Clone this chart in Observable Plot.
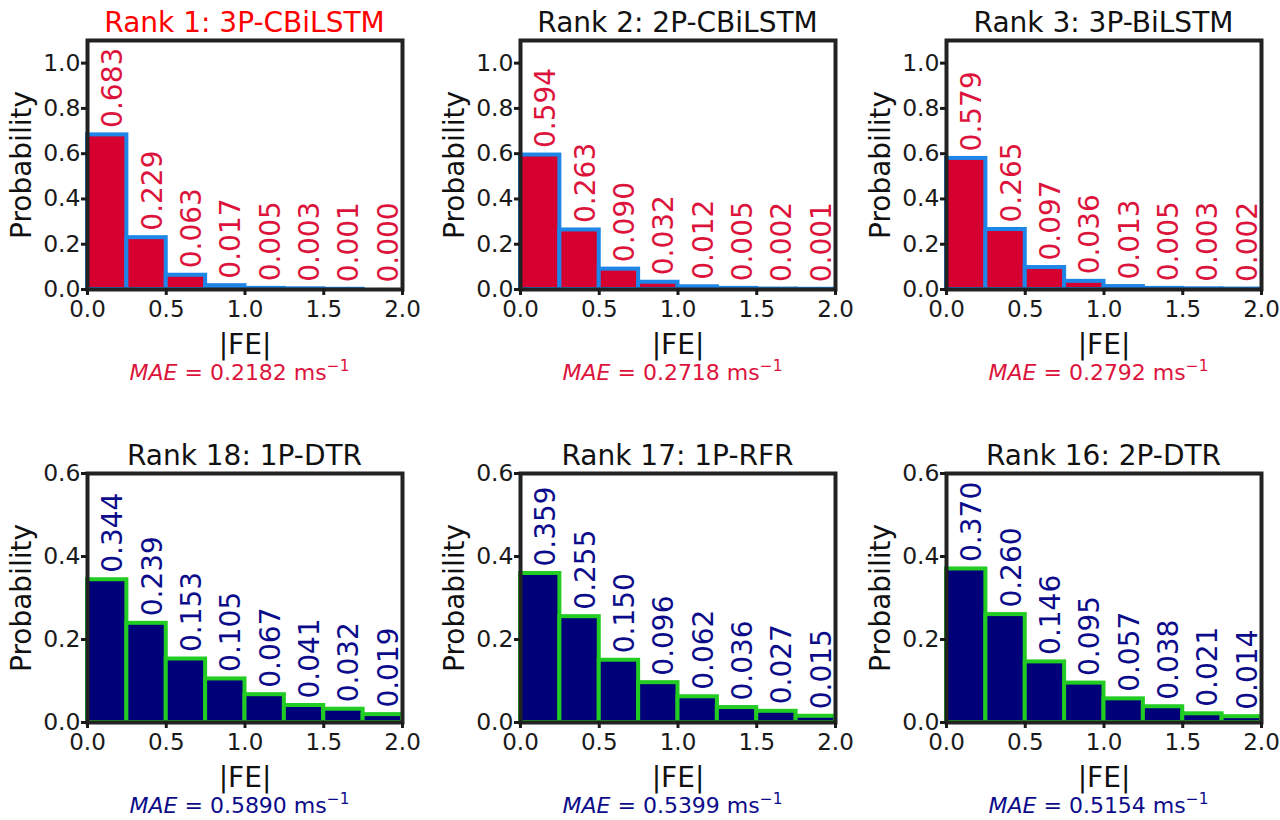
<!DOCTYPE html>
<html>
<head>
<meta charset="utf-8">
<script src="https://cdn.jsdelivr.net/npm/d3@7"></script>
<script src="https://cdn.jsdelivr.net/npm/@observablehq/plot@0.6"></script>
<style>
  body { margin: 0; background: #fff; }
  #root { position: relative; width: 1280px; height: 820px; overflow: hidden; font-family: "DejaVu Sans", sans-serif; color: #1a1a1a; }
  .title, .mae { position: absolute; text-align: center; white-space: nowrap; }
  .mae sup { font-size: 0.7em; vertical-align: 0; position: relative; top: -0.6em; line-height: 0; }
  .plot { position: absolute; }
</style>
</head>
<body>
<div id="root"></div>
<script>
// ---- data ----
const binEdges = [0, 0.25, 0.5, 0.75, 1.0, 1.25, 1.5, 1.75, 2.0];
const panelTitles = ["Rank 1: 3P-CBiLSTM", "Rank 2: 2P-CBiLSTM", "Rank 3: 3P-BiLSTM",
                     "Rank 18: 1P-DTR", "Rank 17: 1P-RFR", "Rank 16: 2P-DTR"];
const probRank1  = [0.683, 0.229, 0.063, 0.017, 0.005, 0.003, 0.001, 0.000];
const probRank2  = [0.594, 0.263, 0.090, 0.032, 0.012, 0.005, 0.002, 0.001];
const probRank3  = [0.579, 0.265, 0.097, 0.036, 0.013, 0.005, 0.003, 0.002];
const probRank18 = [0.344, 0.239, 0.153, 0.105, 0.067, 0.041, 0.032, 0.019];
const probRank17 = [0.359, 0.255, 0.150, 0.096, 0.062, 0.036, 0.027, 0.015];
const probRank16 = [0.370, 0.260, 0.146, 0.095, 0.057, 0.038, 0.021, 0.014];
const maeValues  = ["0.2182", "0.2718", "0.2792", "0.5890", "0.5399", "0.5154"];
const xTicks = [0, 0.5, 1.0, 1.5, 2.0];
const yTicksTop = [0, 0.2, 0.4, 0.6, 0.8, 1.0];
const yTicksBottom = [0, 0.2, 0.4, 0.6];
const yMaxTop = 1.1, yMaxBottom = 0.6;
const xLabel = "|FE|", yLabel = "Probability";

// ---- styles ----
const topStyle = {fill: "#d5002f", edge: "#1e86e6", text: "#dc143c"};
const bottomStyle = {fill: "#000078", edge: "#22cc22", text: "#0c0c8a"};

const allValues = [probRank1, probRank2, probRank3, probRank18, probRank17, probRank16];
const colLefts = [87, 520, 946];
const rowTops = [40, 473];
const FW = 315, FH = 249;
const ML = 95, MR = 18, MT = 12, MB = 75;

const root = document.getElementById("root");

allValues.forEach((values, i) => {
  const row = Math.floor(i / 3), col = i % 3;
  const st = row === 0 ? topStyle : bottomStyle;
  const left = colLefts[col], top = rowTops[row];
  const data = values.map((v, k) => ({x1: binEdges[k], x2: binEdges[k + 1], y: v, label: v.toFixed(3)}));

  const chart = Plot.plot({
    width: ML + FW + MR,
    height: MT + FH + MB,
    marginLeft: ML, marginRight: MR, marginTop: MT, marginBottom: MB,
    style: {fontFamily: "DejaVu Sans, sans-serif", background: "transparent", color: "#1a1a1a", overflow: "visible"},
    x: {domain: [0, 2]},
    y: {domain: [0, row === 0 ? yMaxTop : yMaxBottom]},
    marks: [
      Plot.rectY(data, {x1: "x1", x2: "x2", y: "y", fill: st.fill, stroke: st.edge, strokeWidth: 4, inset: 0}),
      Plot.frame({stroke: "#222", strokeWidth: 4}),
      Plot.axisX({ticks: xTicks, tickFormat: ".1f", tickSize: 6, tickPadding: 5, fontSize: 23, strokeWidth: 3, stroke: "#1a1a1a", label: null}),
      Plot.axisY({ticks: row === 0 ? yTicksTop : yTicksBottom, tickFormat: ".1f", tickSize: 6, tickPadding: 1, fontSize: 23.5, strokeWidth: 3, stroke: "#1a1a1a", label: null}),
      Plot.text(data, {x: d => (d.x1 + d.x2) / 2, y: "y", text: "label", rotate: -90, textAnchor: "start", lineAnchor: "middle", dx: 6, dy: -7, fontSize: 28, fill: st.text}),
      Plot.text([yLabel], {text: d => d, frameAnchor: "left", dx: -65, rotate: -90, textAnchor: "middle", lineAnchor: "middle", fontSize: 28, fill: "#111"}),
      Plot.text([xLabel], {text: d => d, frameAnchor: "bottom", dy: 64, lineAnchor: "bottom", fontSize: 28, fill: "#111"})
    ]
  });
  chart.classList.add("plot");
  chart.style.left = (left - ML) + "px";
  chart.style.top = (top - MT) + "px";
  root.appendChild(chart);

  // title
  const tfs = 28;
  const t = document.createElement("div");
  t.className = "title";
  t.textContent = panelTitles[i];
  t.style.fontSize = tfs + "px";
  t.style.lineHeight = tfs + "px";
  t.style.left = (left - 40) + "px";
  t.style.width = (FW + 80) + "px";
  t.style.top = (top - 7 - 0.846 * tfs) + "px";
  t.style.color = i === 0 ? "#ff0000" : "#111";
  root.appendChild(t);

  // MAE caption
  const mfs = 22;
  const m = document.createElement("div");
  m.className = "mae";
  m.innerHTML = `<i>MAE</i> = ${maeValues[i]} ms<sup>\u22121</sup>`;
  m.style.fontSize = mfs + "px";
  m.style.lineHeight = mfs + "px";
  m.style.left = (left - 45) + "px";
  m.style.width = (FW + 80) + "px";
  m.style.top = (top + FH + 92 - 0.846 * mfs) + "px";
  m.style.color = st.text;
  root.appendChild(m);
});
</script>
</body>
</html>
